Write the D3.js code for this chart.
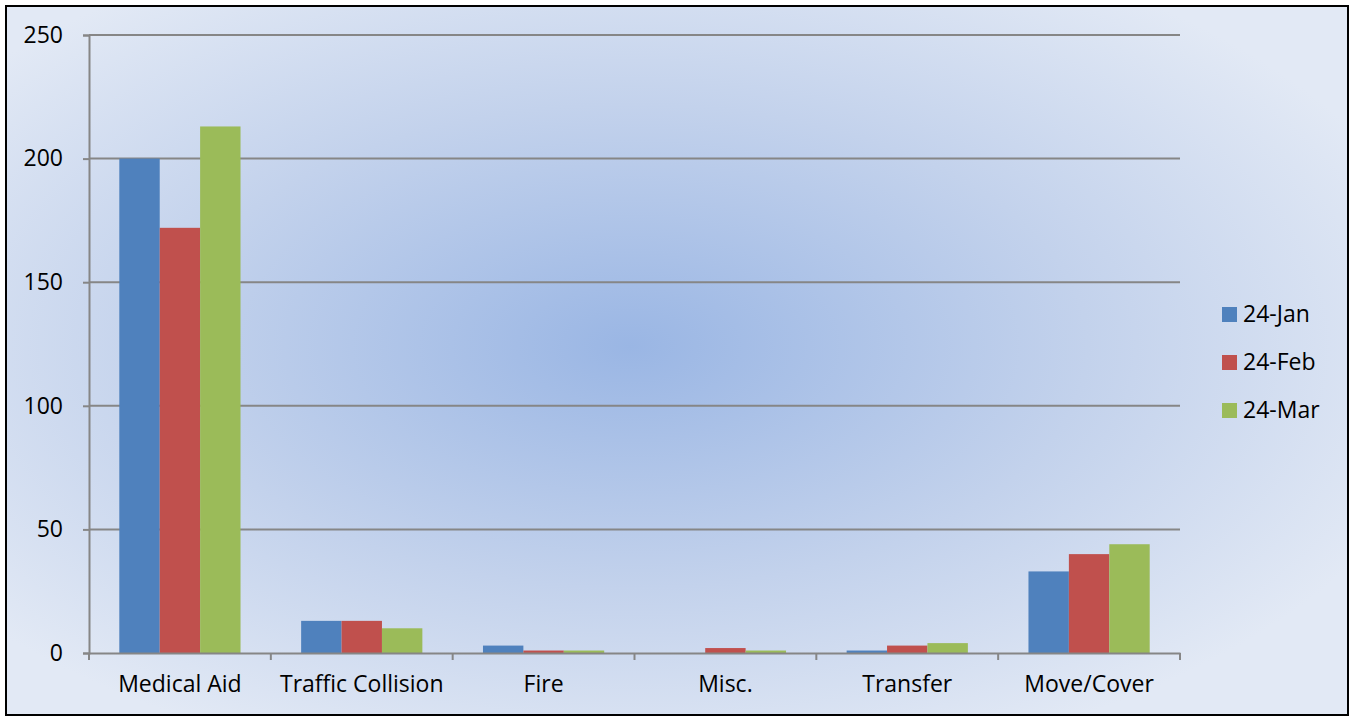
<!DOCTYPE html>
<html><head><meta charset="utf-8">
<script src="https://cdn.jsdelivr.net/npm/d3@7"></script>
<style>body{margin:0;background:#fff}svg{display:block}</style>
</head><body>
<script>
const categories = ["Medical Aid","Traffic Collision","Fire","Misc.","Transfer","Move/Cover"];
const seriesNames = ["24-Jan","24-Feb","24-Mar"];
const jan = [200,13,3,0,1,33];
const feb = [172,13,1,2,3,40];
const mar = [213,10,1,1,4,44];
const yTicks = [0,50,100,150,200,250];
const colors = ["#4f81bd","#c0504d","#9bbb59"];
const series = [jan,feb,mar];

const W=1351,H=717;
const svg=d3.select("body").append("svg").attr("width",W).attr("height",H);
const defs=svg.append("defs");
const g=defs.append("radialGradient").attr("id","bg").attr("cx","0.465").attr("cy","0.48").attr("r","0.62");
g.append("stop").attr("offset","0").attr("stop-color","#9ab6e4");
g.append("stop").attr("offset","0.55").attr("stop-color","#c3d2ec");
g.append("stop").attr("offset","1").attr("stop-color","#e2e9f5");
svg.append("rect").attr("x",6).attr("y",6).attr("width",1342).attr("height",709)
  .attr("fill","url(#bg)").attr("stroke","#000").attr("stroke-width",2);

const x0=d3.scaleBand().domain(categories).range([89,1180]).paddingInner(0).paddingOuter(0);
const x1=d3.scaleBand().domain(seriesNames).range([x0.bandwidth()/6, x0.bandwidth()*5/6]);
const y=d3.scaleLinear().domain([0,250]).range([653,35]);
const font="'Open Sans', sans-serif";
const fs=23;

// gridlines
svg.append("g").selectAll("line").data(yTicks.filter(d=>d>0)).join("line")
  .attr("x1",89).attr("x2",1180).attr("y1",d=>y(d)).attr("y2",d=>y(d))
  .attr("stroke","#868686").attr("stroke-width",2);

// bars
categories.forEach((c,i)=>{
  series.forEach((s,j)=>{
    svg.append("rect").attr("x",x0(c)+x1(seriesNames[j])).attr("width",x1.bandwidth())
      .attr("y",y(s[i])).attr("height",y(0)-y(s[i])).attr("fill",colors[j]);
  });
});

// y axis
const ya=svg.append("g").attr("transform","translate(89,0)")
  .call(d3.axisLeft(y).tickValues(yTicks).tickSize(6).tickPadding(20));
ya.select(".domain").attr("stroke","#868686").attr("stroke-width",2);
ya.selectAll(".tick line").attr("stroke","#868686").attr("stroke-width",2);
ya.selectAll("text").attr("font-family",font).attr("font-size",fs).attr("fill","#000");

// x axis
const xa=svg.append("g").attr("transform","translate(0,653)")
  .call(d3.axisBottom(x0).tickSize(0).tickPadding(23));
xa.select(".domain").attr("stroke","#868686").attr("stroke-width",2);
xa.selectAll("text").attr("font-family",font).attr("font-size",fs).attr("fill","#000");
svg.append("g").selectAll("line").data(d3.range(categories.length+1)).join("line")
  .attr("x1",d=>89+d*x0.bandwidth()).attr("x2",d=>89+d*x0.bandwidth())
  .attr("y1",653).attr("y2",660).attr("stroke","#868686").attr("stroke-width",2);

// legend
const lg=svg.append("g");
seriesNames.forEach((n,j)=>{
  const cy=314+j*48;
  lg.append("rect").attr("x",1222).attr("y",cy-7).attr("width",15).attr("height",15).attr("fill",colors[j]);
  lg.append("text").attr("x",1243).attr("y",cy).attr("dy","0.35em").text(n)
    .attr("font-family",font).attr("font-size",fs).attr("fill","#000");
});
</script>
</body></html>
